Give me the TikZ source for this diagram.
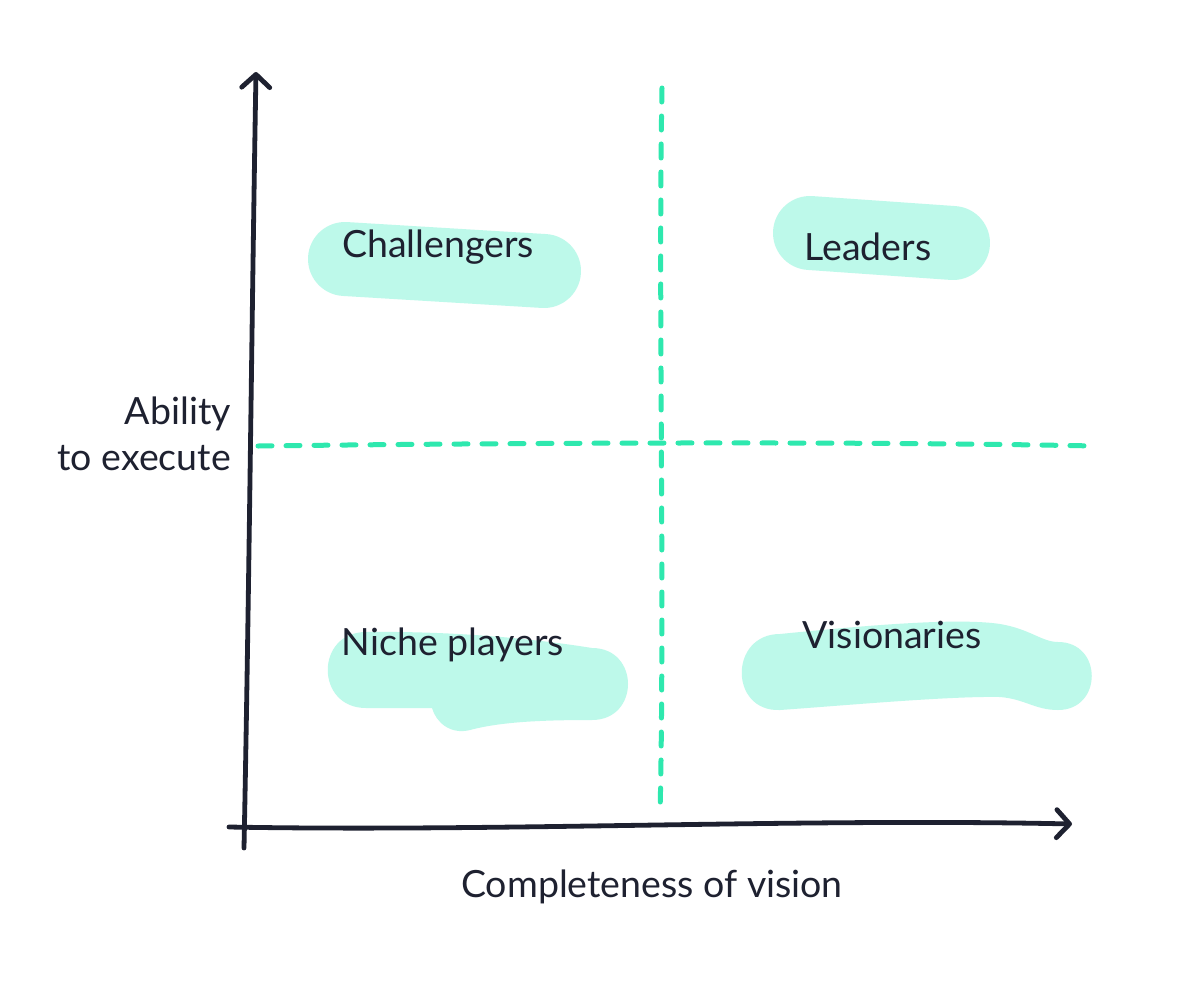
\documentclass[tikz,border=0pt]{standalone}
\usepackage{fontspec}
\setmainfont{Lato}
\usetikzlibrary{arrows.meta}
\definecolor{ink}{HTML}{1E2130}
\definecolor{mint}{HTML}{2EE8AE}
\definecolor{blobfill}{HTML}{BDF9EA}
\tikzset{
  axisline/.style={draw=ink, line width=4.8pt, line cap=round, line join=round,
    -{Straight Barb[length=13pt,width=28pt,line width=4.8pt,line cap=round,line join=round]}},
  gridline/.style={draw=mint, line width=5pt, line cap=round, dash pattern=on 14pt off 14pt},
  pill/.style={draw=blobfill, line cap=round},
  blob/.style={fill=blobfill},
  lbl/.style={text=ink, font=\fontsize{37.5}{46}\selectfont, inner sep=0pt},
}
\begin{document}
\begin{tikzpicture}[x=1pt,y=-1pt]
\useasboundingbox (0,0) rectangle (1200,986);
\fill[white] (0,0) rectangle (1200,986);
% blobs
\draw[pill, line width=74pt] (345,259) -- (544,271);
\draw[pill, line width=74pt] (810,233) -- (953,243);
\fill[blob] (366,632) .. controls (450,631) and (530,638) .. (592,648)
  .. controls (640,648) and (640,720) .. (592,720)
  .. controls (540,720) and (500,722) .. (470,730)
  .. controls (450,735) and (436,722) .. (432,708)
  -- (366,708) .. controls (315,708) and (315,632) .. (366,632) -- cycle;
\fill[blob] (780,634) .. controls (880,624) and (960,618) .. (1000,624)
  .. controls (1030,629) and (1042,642) .. (1058,642)
  .. controls (1103,642) and (1103,710) .. (1058,710)
  .. controls (1035,710) and (1025,699) .. (1000,697)
  .. controls (950,696) and (850,705) .. (780,710)
  .. controls (729,712) and (729,634) .. (780,634) -- cycle;
% dashed quadrant lines
\coordinate (vt) at (662,88);
\coordinate (vb) at (660,815);
\coordinate (hl) at (258,446);
\coordinate (hr) at (1095,446);
\draw[gridline] (vt) .. controls (658,300) and (665,600) .. (vb);
\draw[gridline] (hl) .. controls (500,443) and (850,441) .. (hr);
% axes
\coordinate (yb) at (244,848);
\coordinate (yt) at (256,72);
\coordinate (xl) at (229,827);
\coordinate (xr) at (1072,824);
\draw[axisline] (yb) .. controls (249,600) and (252,300) .. (yt);
\draw[axisline] (xl) .. controls (500,832) and (800,818) .. (xr);
% labels
\node[lbl] (chal) at (438,247) {Challengers};
\node[lbl] (lead) at (868,247) {Leaders};
\node[lbl] (niche) at (453,645) {Niche players};
\node[lbl] (vis) at (892,635) {Visionaries};
\node[lbl, anchor=east, align=right] (ylab) at (231,434) {Ability\\to execute};
\node[lbl] (xlab) at (652,887) {Completeness of vision};
\end{tikzpicture}
\end{document}
